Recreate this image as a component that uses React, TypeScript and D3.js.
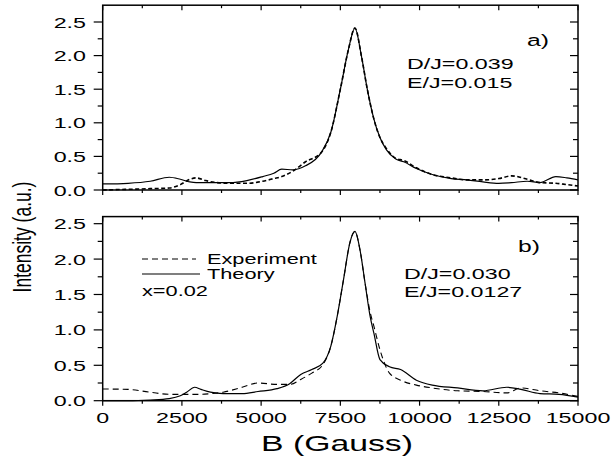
import React from "react";
import * as d3 from "d3";

const fieldA = [0, 800, 1500, 2100, 2450, 2750, 2950, 3250, 3600, 4000, 4550, 5050, 5400, 5650, 6000, 6400, 6900, 7200, 7500, 7750, 7960, 8170, 8350, 8550, 8750, 8950, 9250, 9500, 9900, 10400, 11000, 11500, 12000, 12500, 12900, 13400, 13800, 14300, 14650, 15000];
const theoryA = [0.09, 0.10, 0.13, 0.19, 0.16, 0.12, 0.11, 0.11, 0.11, 0.11, 0.14, 0.20, 0.25, 0.31, 0.30, 0.36, 0.56, 0.86, 1.50, 2.08, 2.41, 1.98, 1.50, 1.07, 0.78, 0.60, 0.46, 0.42, 0.32, 0.23, 0.17, 0.15, 0.12, 0.10, 0.11, 0.13, 0.11, 0.20, 0.18, 0.15];
const experimentA = [0.00, 0.01, 0.02, 0.03, 0.08, 0.16, 0.18, 0.14, 0.11, 0.10, 0.10, 0.13, 0.17, 0.20, 0.28, 0.42, 0.56, 0.86, 1.50, 2.08, 2.41, 1.98, 1.50, 1.07, 0.78, 0.62, 0.47, 0.44, 0.33, 0.23, 0.18, 0.15, 0.15, 0.17, 0.21, 0.16, 0.11, 0.10, 0.08, 0.06];

const fieldB = [0, 800, 1500, 2100, 2450, 2650, 2900, 3100, 3400, 3800, 4400, 4900, 5500, 5900, 6250, 6600, 6950, 7200, 7400, 7600, 7800, 7960, 8120, 8280, 8440, 8560, 8750, 9050, 9400, 9900, 10400, 11200, 12000, 12750, 13200, 13800, 14400, 15000];
const theoryB = [0.0, 0.0, 0.01, 0.03, 0.07, 0.12, 0.19, 0.16, 0.12, 0.10, 0.10, 0.13, 0.17, 0.24, 0.37, 0.44, 0.53, 0.77, 1.19, 1.71, 2.23, 2.39, 2.13, 1.66, 1.19, 0.95, 0.58, 0.48, 0.44, 0.29, 0.22, 0.18, 0.14, 0.19, 0.16, 0.10, 0.09, 0.05];
const experimentB = [0.165, 0.16, 0.12, 0.09, 0.09, 0.09, 0.09, 0.09, 0.10, 0.12, 0.19, 0.25, 0.23, 0.23, 0.30, 0.39, 0.51, 0.77, 1.19, 1.71, 2.23, 2.39, 2.13, 1.66, 1.25, 1.05, 0.72, 0.39, 0.29, 0.22, 0.18, 0.14, 0.13, 0.11, 0.18, 0.14, 0.11, 0.06];

const xTickValues = [0, 2500, 5000, 7500, 10000, 12500, 15000];
const yTickValues = [0, 0.5, 1.0, 1.5, 2.0, 2.5];
const legendLabels = ["Experiment", "Theory"];
const panelLabels = ["a)", "b)"];
const paramsA = ["D/J=0.039", "E/J=0.015"];
const paramsB = ["D/J=0.030", "E/J=0.0127"];
const concentration = "x=0.02";

const FONT = "'Liberation Sans', Arial, Helvetica, sans-serif";
const SX = 1.5;

function SText({ x, y, size, anchor = "start", children, rotate = 0 }: any) {
  return (
    <text
      transform={`translate(${x},${y}) scale(${SX},1)${rotate ? ` rotate(${rotate})` : ""}`}
      fontSize={size}
      fontFamily={FONT}
      textAnchor={anchor}
      fill="#000"
    >
      {children}
    </text>
  );
}

const X0 = 102.7, X1 = 578;
const xScale = d3.scaleLinear().domain([0, 15000]).range([X0, X1]);

function Panel({ yBottom, yTop, yMax, field, theory, experiment, showXLabels, dash, dashWidth }: any) {
  const y = d3.scaleLinear().domain([0, yMax]).range([yBottom, yTop]);
  const line = d3
    .line<number>()
    .x((_, i) => xScale(field[i]))
    .y((d) => y(d))
    .curve(d3.curveMonotoneX);
  const xMinor = d3.range(1250, 15000, 2500);
  const yMinor = d3.range(0.25, yMax, 0.5);
  return (
    <g>
      <path d={line(experiment) || ""} fill="none" stroke="#000" strokeWidth={dashWidth} strokeDasharray={dash} />
      <path d={line(theory) || ""} fill="none" stroke="#000" strokeWidth={1.2} />
      <rect x={X0} y={yTop} width={X1 - X0} height={yBottom - yTop} fill="none" stroke="#000" strokeWidth={1.5} />
      {xTickValues.map((t) => (
        <g key={"xt" + t}>
          <line x1={xScale(t)} x2={xScale(t)} y1={yBottom} y2={yBottom + 5} stroke="#000" strokeWidth={1.2} />
          <line x1={xScale(t)} x2={xScale(t)} y1={yTop} y2={yTop + 5} stroke="#000" strokeWidth={1.2} />
        </g>
      ))}
      {xMinor.map((t) => (
        <g key={"xm" + t}>
          <line x1={xScale(t)} x2={xScale(t)} y1={yBottom} y2={yBottom + 3} stroke="#000" strokeWidth={1.2} />
          <line x1={xScale(t)} x2={xScale(t)} y1={yTop} y2={yTop + 3} stroke="#000" strokeWidth={1.2} />
        </g>
      ))}
      {yTickValues.map((t) => (
        <g key={"yt" + t}>
          <line x1={X0 - 9} x2={X0} y1={y(t)} y2={y(t)} stroke="#000" strokeWidth={1.2} />
          <line x1={X1 - 8} x2={X1} y1={y(t)} y2={y(t)} stroke="#000" strokeWidth={1.2} />
          <SText x={86} y={y(t) + 5.5} size={15.5} anchor="end">{d3.format(".1f")(t)}</SText>
        </g>
      ))}
      {yMinor.map((t) => (
        <g key={"ym" + t}>
          <line x1={X0 - 5} x2={X0} y1={y(t)} y2={y(t)} stroke="#000" strokeWidth={1.2} />
          <line x1={X1 - 5} x2={X1} y1={y(t)} y2={y(t)} stroke="#000" strokeWidth={1.2} />
        </g>
      ))}
      {showXLabels &&
        xTickValues.map((t) => (
          <SText key={"xl" + t} x={xScale(t)} y={yBottom + 22} size={15.5} anchor="middle">{String(t)}</SText>
        ))}
    </g>
  );
}

export default function App() {
  return (
    <svg width={611} height={456} style={{ position: "absolute", left: 0, top: 0, background: "#fff" }}>
      <rect width={611} height={456} fill="#fff" />
      <Panel yBottom={190} yTop={5.2} yMax={2.75} field={fieldA} theory={theoryA} experiment={experimentA} showXLabels={false} dash="4,2.5" dashWidth={1.6} />
      <Panel yBottom={400.7} yTop={216.6} yMax={2.6} field={fieldB} theory={theoryB} experiment={experimentB} showXLabels={true} dash="6,4" dashWidth={1.1} />
      <SText x={527} y={46} size={16.5}>{panelLabels[0]}</SText>
      <SText x={407} y={69} size={15.5}>{paramsA[0]}</SText>
      <SText x={407} y={88} size={15.5}>{paramsA[1]}</SText>
      <SText x={518} y={252} size={16.5}>{panelLabels[1]}</SText>
      <SText x={404} y={279} size={15.5}>{paramsB[0]}</SText>
      <SText x={404} y={297} size={15.5}>{paramsB[1]}</SText>
      <line x1={142} x2={196} y1={259} y2={259} stroke="#000" strokeWidth={1.1} strokeDasharray="6,4" />
      <SText x={207} y={264} size={14.5}>{legendLabels[0]}</SText>
      <line x1={142} x2={200} y1={274} y2={274} stroke="#000" strokeWidth={1.1} />
      <SText x={207} y={279} size={14.5}>{legendLabels[1]}</SText>
      <SText x={142} y={296} size={14.5}>{concentration}</SText>
      <SText x={337} y={451} size={22.5} anchor="middle">B (Gauss)</SText>
      <SText x={31} y={237} size={17.5} anchor="middle" rotate={-90}>Intensity (a.u.)</SText>
    </svg>
  );
}
